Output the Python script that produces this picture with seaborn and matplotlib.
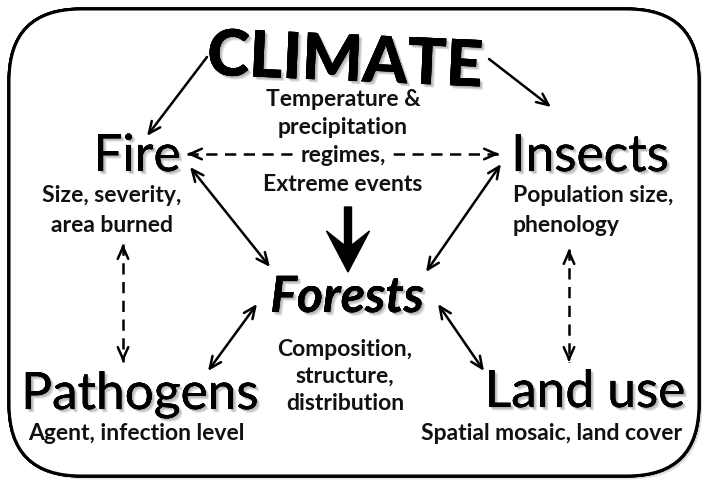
import numpy as np
import seaborn as sns
import matplotlib.pyplot as plt
import matplotlib.patheffects as pe
from matplotlib.patches import FancyBboxPatch

# node labels and their descriptions
nodes = ['CLIMATE', 'Fire', 'Insects', 'Forests', 'Pathogens', 'Land use']
details = {
    'CLIMATE': ['Temperature &', 'precipitation', 'regimes,', 'Extreme events'],
    'Fire': ['Size, severity,', 'area burned'],
    'Insects': ['Population size,', 'phenology'],
    'Forests': ['Composition,', 'structure,', 'distribution'],
    'Pathogens': ['Agent, infection level'],
    'Land use': ['Spatial mosaic, land cover'],
}

# links between nodes: (from, to, kind)
links = [
    ('CLIMATE', 'Fire', 'one'),
    ('CLIMATE', 'Insects', 'one'),
    ('Fire', 'Insects', 'dashed'),
    ('Fire', 'Forests', 'both'),
    ('Insects', 'Forests', 'both'),
    ('Fire', 'Pathogens', 'dashed'),
    ('Insects', 'Land use', 'dashed'),
    ('Forests', 'Pathogens', 'both'),
    ('Forests', 'Land use', 'both'),
]

# ---- layout (pixel space, y down) ----
label_pos = {
    'CLIMATE': (345, 63), 'Fire': (137, 172), 'Insects': (590, 172),
    'Forests': (347, 313), 'Pathogens': (140, 410), 'Land use': (585, 408),
}
label_style = {
    'CLIMATE': dict(fontsize=46, fontweight='black', rotation=-2.5, va='center'),
    'Fire': dict(fontsize=37), 'Insects': dict(fontsize=37),
    'Forests': dict(fontsize=36, fontweight='bold', style='italic'),
    'Pathogens': dict(fontsize=37), 'Land use': dict(fontsize=37),
}
detail_pos = {  # anchor x, alignment, baselines
    'CLIMATE': (343, 'center', [106, 134, 162, 191]),
    'Fire': (112, 'center', [202, 232]),
    'Insects': (513, 'left', [202, 232]),
    'Forests': (345, 'center', [356, 383, 410]),
    'Pathogens': (136, 'center', [440]),
    'Land use': (552, 'center', [440]),
}
link_ends = {
    ('CLIMATE', 'Fire'): ((207, 58), (147, 137)),
    ('CLIMATE', 'Insects'): ((489, 60), (551, 108)),
    ('Fire', 'Insects'): ((187, 155), (499, 155)),
    ('Fire', 'Forests'): ((190, 168), (270, 268)),
    ('Insects', 'Forests'): ((501, 165), (426, 273)),
    ('Fire', 'Pathogens'): ((123, 245), (123, 363)),
    ('Insects', 'Land use'): ((569, 250), (569, 363)),
    ('Forests', 'Pathogens'): ((257, 305), (208, 372)),
    ('Forests', 'Land use'): ((438, 305), (484, 372)),
}

sns.set_theme(style='white')
plt.rcParams['font.family'] = ['Lato', 'DejaVu Sans']

fig = plt.figure(figsize=(7.02, 4.81), dpi=100)
ax = fig.add_axes([0, 0, 1, 1])
ax.set_xlim(0, 702)
ax.set_ylim(481, 0)
ax.axis('off')

# soft shadow built from a few faint offset copies
def soft_shadow(steps=3, alpha=0.18):
    effects = [pe.withSimplePatchShadow(offset=(k, -k), shadow_rgbFace='0.3', alpha=alpha)
               for k in np.arange(1, steps + 1) * 0.8]
    return effects + [pe.Normal()]

# rounded frame
frame = FancyBboxPatch((9, 10), 690, 467, boxstyle='round,pad=0,rounding_size=72',
                       fc='white', ec='black', lw=2.2, path_effects=soft_shadow(3, 0.15))
ax.add_patch(frame)

for name in nodes:
    x, y = label_pos[name]
    kw = dict(ha='center', va='baseline', color='black')
    kw.update(label_style[name])
    ax.text(x, y, name, path_effects=soft_shadow(), **kw)

for name, lines in details.items():
    x, ha, ys = detail_pos[name]
    for line, y in zip(lines, ys):
        box = dict(fc='white', ec='none', pad=1) if line == 'regimes,' else None
        ax.text(x, y, line, ha=ha, va='baseline', fontsize=16.5, fontweight='bold',
                color='#111111', bbox=box, zorder=5)

head = dict(arrowstyle='->,head_length=0.85,head_width=0.38', lw=1.8, color='black',
            shrinkA=0, shrinkB=0, mutation_scale=10)

for a, b, kind in links:
    p0, p1 = link_ends[(a, b)]
    if kind == 'one':
        ax.annotate('', xy=p1, xytext=p0, arrowprops=head)
    elif kind == 'both':
        ax.annotate('', xy=p1, xytext=p0,
                    arrowprops=dict(head, arrowstyle='<->,head_length=0.85,head_width=0.38'))
    else:
        ax.plot([p0[0], p1[0]], [p0[1], p1[1]], color='black', lw=1.8,
                dashes=(4.5, 3), zorder=2)
        v = np.subtract(p1, p0) / np.hypot(*np.subtract(p1, p0)) * 4
        ax.annotate('', xy=p1, xytext=tuple(np.subtract(p1, v)), arrowprops=head)
        ax.annotate('', xy=p0, xytext=tuple(np.add(p0, v)), arrowprops=head)

# big arrow from climate to forests
ax.arrow(348, 208, 0, 65, width=7, head_width=43, head_length=41,
         length_includes_head=True, overhang=0.35, fc='black', ec='black')

fig.savefig('out.png', dpi=100)
